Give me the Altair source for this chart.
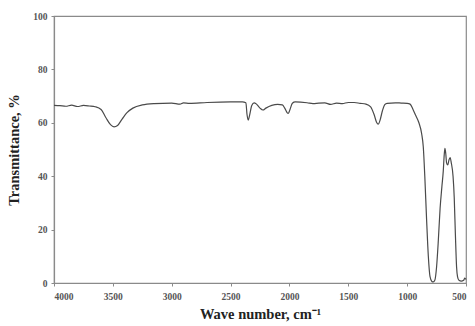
import altair as alt
import pandas as pd

wavenumber = [4000, 3950, 3900, 3850, 3800, 3750, 3700, 3650, 3600, 3560, 3520, 3490, 3460, 3420,
              3380, 3330, 3250, 3150, 3000, 2930, 2900, 2850, 2700, 2500, 2400, 2370, 2360, 2350,
              2340, 2320, 2300, 2280, 2250, 2225, 2200, 2150, 2100, 2060, 2040, 2020, 2010, 1995,
              1975, 1950, 1850, 1800, 1750, 1700, 1650, 1600, 1550, 1500, 1450, 1400, 1350, 1310,
              1280, 1260, 1245, 1230, 1210, 1190, 1170, 1100, 1050, 1000, 975, 950, 930, 900, 877,
              863, 850, 835, 820, 806, 790, 778, 765, 750, 735, 720, 705, 693, 685, 679, 672, 665,
              655, 645, 635, 625, 610, 600, 590, 580, 572, 560, 540, 520, 510, 500]
transmittance = [66.5, 66.4, 66.2, 66.6, 66.1, 66.5, 66.3, 66.0, 65.0, 62.0, 59.3, 58.5, 59.0, 61.5,
                 63.8, 65.5, 66.7, 67.2, 67.4, 67.0, 67.5, 67.3, 67.6, 67.8, 67.8, 67.5, 63.0, 61.0,
                 62.5, 66.5, 67.5, 67.0, 65.5, 64.8, 65.5, 66.5, 66.9, 66.7, 65.5, 63.8, 63.5, 65.0,
                 67.3, 67.8, 67.5, 67.2, 67.4, 67.5, 66.9, 67.4, 67.2, 67.6, 67.6, 67.3, 67.0, 66.0,
                 63.0, 60.2, 59.5, 61.0, 64.5, 66.8, 67.3, 67.5, 67.4, 67.3, 67.0, 65.0, 63.0, 60.0, 56.0,
                 51.0, 40.0, 24.0, 10.0, 2.5, 0.6, 0.4, 1.0, 6.0, 16.0, 28.0, 36.0, 42.0, 48.0, 50.4, 48.5, 45.0,
                 44.2, 46.0, 47.0, 45.0, 40.0, 32.0, 18.0, 6.0, 2.4, 1.0, 0.7, 1.0, 1.8, 1.3]

x_ticks = [4000, 3500, 3000, 2500, 2000, 1500, 1000, 500]
y_ticks = [0, 20, 40, 60, 80, 100]

df = pd.DataFrame({"wn": wavenumber, "t": transmittance})

chart = alt.Chart(df).mark_line(color="#4a4a4a", strokeWidth=1.2, interpolate="monotone").encode(
    x=alt.X("wn:Q",
            scale=alt.Scale(domain=[500, 4000], reverse=True, nice=False, zero=False),
            axis=alt.Axis(values=x_ticks, title="Wave number, cm\u207b\u00b9", labelPadding=5,
                          titlePadding=7, format="d")),
    y=alt.Y("t:Q",
            scale=alt.Scale(domain=[0, 100], nice=False),
            axis=alt.Axis(values=y_ticks, title="Transmittance, %", labelPadding=4,
                          titlePadding=11)),
).properties(
    width=412, height=267,
    autosize=alt.AutoSizeParams(type="none"),
    padding={"left": 54, "top": 16, "right": 9, "bottom": 43},
).configure_view(
    stroke="#8a8a8a", strokeWidth=1.2
).configure_axis(
    grid=False,
    domainColor="#8a8a8a", domainWidth=1.2,
    tickColor="#8a8a8a", tickSize=3,
    labelFont="Liberation Serif", labelFontWeight="bold", labelFontSize=9.5, labelColor="#555555",
    titleFont="Liberation Serif", titleFontWeight="bold", titleFontSize=14.5, titleColor="#222222",
)

chart.save("out.html", embed_options={"renderer": "svg", "actions": False})
